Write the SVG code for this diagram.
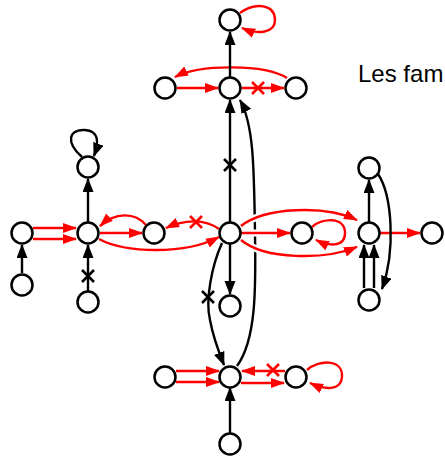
<svg xmlns="http://www.w3.org/2000/svg" xmlns:xlink="http://www.w3.org/1999/xlink" width="445" height="457" viewBox="0 0 445 457">
<style>
.n{fill:#fff;stroke:#000;stroke-width:2.5}
.k{fill:none;stroke:#000;stroke-width:2.4}
.r{fill:none;stroke:#f00;stroke-width:2.4}
.h{fill:none;stroke:#fff;stroke-width:7}
.ka{marker-end:url(#ab)}
.ra{marker-end:url(#ar)}
.t{font-family:"Liberation Sans",Arial,sans-serif;font-size:24px;fill:#000}
</style>
<defs>
<marker id="ab" markerUnits="userSpaceOnUse" markerWidth="16" markerHeight="12" refX="13" refY="5.5" orient="auto"><path d="M0,0 L14,5.5 L0,11 z" fill="#000"/></marker>
<marker id="ar" markerUnits="userSpaceOnUse" markerWidth="16" markerHeight="11" refX="13" refY="5" orient="auto"><path d="M0,0 L14,5 L0,10 z" fill="#f00"/></marker>
<path id="x" d="M-6,-6 L6,6 M-6,6 L6,-6" fill="none"/>
</defs>
<rect width="445" height="457" fill="#fff"/>
<g id="connectors">
<path class="k ka" d="M237,366 C256,340 256,290 255,233 C254,170 254,125 240,100"/>
<path class="r ra" d="M240,13 C255,2 275,4 275,20 C275,33 258,35 242,28"/>
<path class="r ra" d="M287,78 C265,64 200,64 175,77"/>
<path class="k ka" d="M230,77 L230,32"/>
<path class="r ra" d="M177,88 L218,88"/>
<path class="r ra" d="M242,88 L284,88"/>
<use xlink:href="#x" x="258" y="88" stroke="#f00" stroke-width="2.6"/>
<path class="k ka" d="M230,222 L230,100"/>
<use xlink:href="#x" x="230" y="165" stroke="#000" stroke-width="2.6"/>
<path class="r ra" d="M219,229 C205,219 185,219 166,228"/>
<use xlink:href="#x" x="196" y="222" stroke="#f00" stroke-width="2.6"/>
<path class="r ra" d="M99,239 C125,253 185,255 219,237"/>
<path class="r ra" d="M146,225 C135,212 115,212 100,226"/>
<path class="r ra" d="M100,233 L142,233"/>
<path class="r ra" d="M33,228 L76,228"/>
<path class="r ra" d="M33,239 L76,239"/>
<path class="k ka" d="M22,273 L22,245"/>
<path class="k ka" d="M88,291 L88,245"/>
<use xlink:href="#x" x="88" y="276" stroke="#000" stroke-width="2.6"/>
<path class="k ka" d="M88,222 L88,179"/>
<path class="k ka" d="M82,157 C65,142 69,129 85,130 C99,131 99,142 94,156"/>
<path class="h" d="M241,226 C265,207 325,205 357,220"/>
<path class="r ra" d="M241,226 C265,207 325,205 357,220"/>
<path class="h" d="M241,233 L290,233"/>
<path class="r ra" d="M241,233 L290,233"/>
<path class="h" d="M241,240 C265,260 325,260 357,247"/>
<path class="r ra" d="M241,240 C265,260 325,260 357,247"/>
<path class="r ra" d="M312,227 C322,218 345,216 345,233 C345,248 328,246 316,240"/>
<path class="k ka" d="M230,244 L230,294"/>
<path class="k ka" d="M222,243 C212,265 205,300 210,320 C213,337 218,350 224,365"/>
<use xlink:href="#x" x="208" y="297" stroke="#000" stroke-width="2.6"/>
<path class="k ka" d="M369,222 L369,180"/>
<path class="r ra" d="M380,233 L420,233"/>
<path class="k ka" d="M364,288 L364,245"/>
<path class="k ka" d="M374,288 L374,245"/>
<path class="k ka" d="M378,174 C392,195 396,250 382,289"/>
<path class="r ra" d="M176,371 L219,371"/>
<path class="r ra" d="M176,382 L219,382"/>
<path class="r ra" d="M285,371 L242,371"/>
<use xlink:href="#x" x="273" y="370" stroke="#f00" stroke-width="2.6"/>
<path class="r ra" d="M241,383 L284,383"/>
<path class="r ra" d="M307,370 C318,360 343,358 342,377 C341,391 325,390 310,383"/>
<path class="k ka" d="M230,433 L230,388"/>
</g>
<g id="A1"><circle class="n" cx="230" cy="20" r="10.5"/></g>
<g id="B1"><circle class="n" cx="165" cy="88" r="10.5"/></g>
<g id="B2"><circle class="n" cx="230" cy="88" r="10.5"/></g>
<g id="B3"><circle class="n" cx="296" cy="88" r="10.5"/></g>
<g id="Ctop"><circle class="n" cx="88" cy="167" r="10.5"/></g>
<g id="Cleft"><circle class="n" cx="22" cy="233" r="10.5"/></g>
<g id="Ccenter"><circle class="n" cx="88" cy="233" r="10.5"/></g>
<g id="Cright"><circle class="n" cx="154" cy="233" r="10.5"/></g>
<g id="Cbl"><circle class="n" cx="22" cy="285" r="10.5"/></g>
<g id="Cbottom"><circle class="n" cx="88" cy="302" r="10.5"/></g>
<g id="M"><circle class="n" cx="230" cy="233" r="10.5"/></g>
<g id="D"><circle class="n" cx="302" cy="233" r="10.5"/></g>
<g id="E"><circle class="n" cx="230" cy="306" r="10.5"/></g>
<g id="Ftop"><circle class="n" cx="369" cy="168" r="10.5"/></g>
<g id="F"><circle class="n" cx="369" cy="233" r="10.5"/></g>
<g id="Fright"><circle class="n" cx="432" cy="233" r="10.5"/></g>
<g id="Fbottom"><circle class="n" cx="369" cy="300" r="10.5"/></g>
<g id="Gleft"><circle class="n" cx="165" cy="377" r="10.5"/></g>
<g id="G"><circle class="n" cx="230" cy="377" r="10.5"/></g>
<g id="Gright"><circle class="n" cx="296" cy="377" r="10.5"/></g>
<g id="Gbottom"><circle class="n" cx="230" cy="444" r="10.5"/></g>
<g id="label"><text class="t" x="358" y="82">Les fam</text></g>
</svg>
